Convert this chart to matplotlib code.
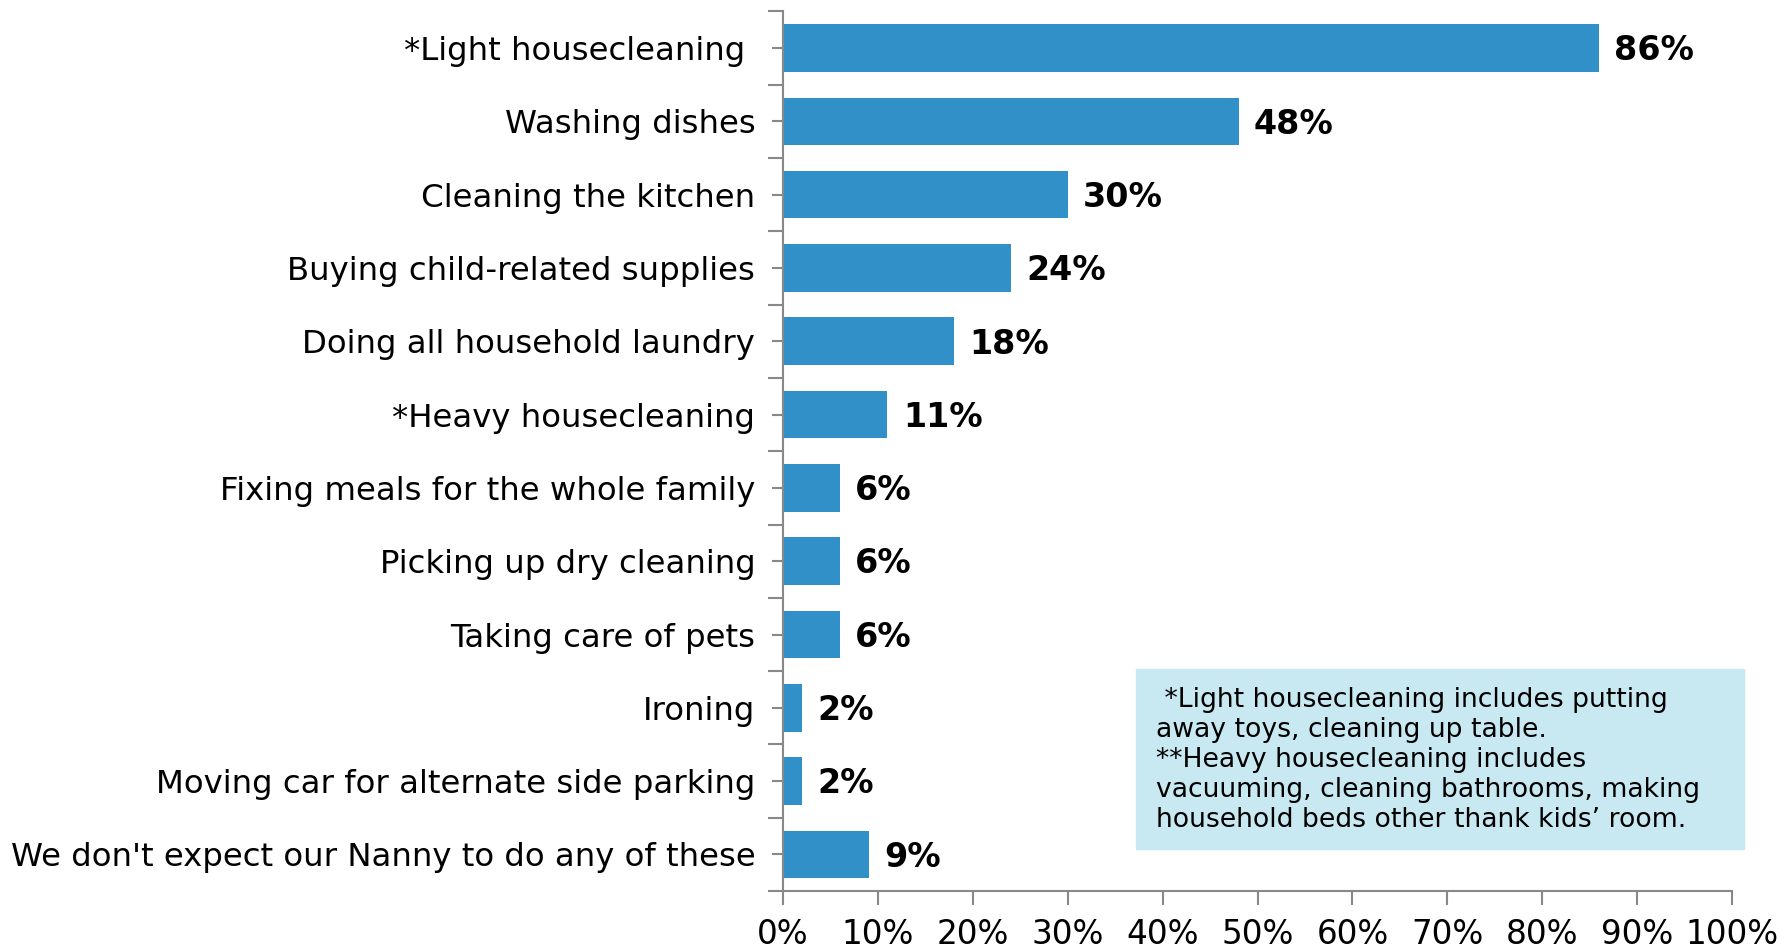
import matplotlib.pyplot as plt
from matplotlib.ticker import FixedLocator, PercentFormatter

# data (top to bottom)
categories = [
    "*Light housecleaning ",
    "Washing dishes",
    "Cleaning the kitchen",
    "Buying child-related supplies",
    "Doing all household laundry",
    "*Heavy housecleaning",
    "Fixing meals for the whole family",
    "Picking up dry cleaning",
    "Taking care of pets",
    "Ironing",
    "Moving car for alternate side parking",
    "We don't expect our Nanny to do any of these",
]
values = [86, 48, 30, 24, 18, 11, 6, 6, 6, 2, 2, 9]
x_ticks = list(range(0, 101, 10))

note = (" *Light housecleaning includes putting\n"
        "away toys, cleaning up table.\n"
        "**Heavy housecleaning includes\n"
        "vacuuming, cleaning bathrooms, making\n"
        "household beds other thank kids\u2019 room.")

plt.rcParams['font.family'] = ['DejaVu Sans']

fig = plt.figure(figsize=(17.92, 9.48), dpi=100)
ax = fig.add_axes([0.437, 0.060, 0.5295, 0.928])

n = len(categories)
ypos = list(range(n))
bars = ax.barh(ypos, values, height=0.65, color='#3190c7')

for y, v in zip(ypos, values):
    ax.annotate(f"{v}%", xy=(v, y), xytext=(11, -2), textcoords='offset points',
                ha='left', va='center', fontsize=24, fontweight='bold')

ax.set_xlim(0, 100)
ax.set_ylim(n - 0.5, -0.5)

ax.set_yticks(ypos)
ax.set_yticklabels(categories, fontsize=23.3)
ax.yaxis.set_minor_locator(FixedLocator([i - 0.5 for i in range(n + 1)]))
ax.tick_params(axis='y', which='major', length=8, width=1.5, color='#888888', pad=12)
ax.tick_params(axis='y', which='minor', length=11, width=1.5, color='#888888')

ax.set_xticks(x_ticks)
ax.xaxis.set_major_formatter(PercentFormatter(decimals=0))
ax.tick_params(axis='x', which='major', length=10, width=1.5, color='#888888',
               labelsize=23.5, pad=9)

for side in ['top', 'right']:
    ax.spines[side].set_visible(False)
for side in ['left', 'bottom']:
    ax.spines[side].set_color('#888888')
    ax.spines[side].set_linewidth(1.5)

# note box
fig.patches.append(plt.Rectangle((1136 / 1792, 1 - 849 / 948), 608 / 1792, 180 / 948,
                                 transform=fig.transFigure, color='#c8e9f2', zorder=0))
fig.text(1156 / 1792, 1 - 760 / 948, note, fontsize=19.2, va='center', ha='left',
         linespacing=1.2)

plt.savefig('out.png', dpi=100)
